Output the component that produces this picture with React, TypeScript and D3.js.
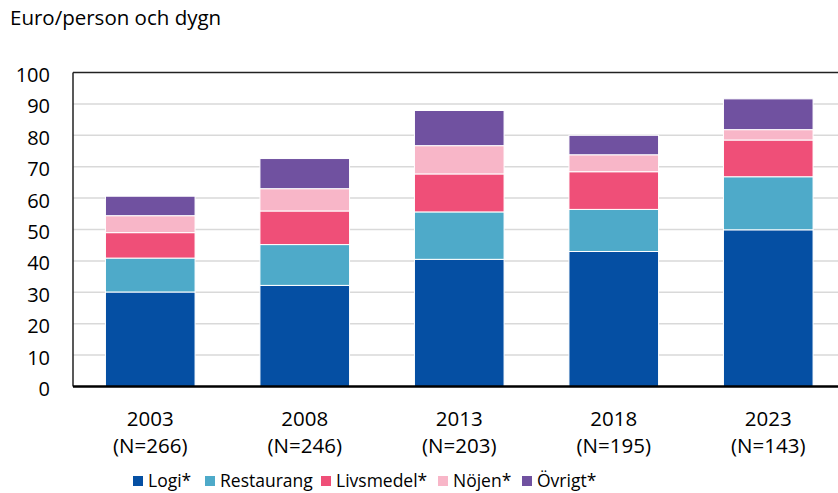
import * as d3 from 'd3';

const WIDTH = 838;
const HEIGHT = 493;
const MARGIN = { top: 72.5, left: 73, bottom: 386.5, right: 845.5 };

// Data
const years = ['2003', '2008', '2013', '2018', '2023'];
const sampleSizes = ['(N=266)', '(N=246)', '(N=203)', '(N=195)', '(N=143)'];
const categories = ['Logi*', 'Restaurang', 'Livsmedel*', 'Nöjen*', 'Övrigt*'];
const colors = ['#054FA3', '#4EAAC9', '#EF4F78', '#F8B6C8', '#7051A0'];

const logi = [30.1, 32.2, 40.5, 43.0, 49.9];
const restaurang = [10.8, 13.0, 15.1, 13.4, 16.9];
const livsmedel = [8.1, 10.7, 12.1, 12.0, 11.7];
const nojen = [5.4, 7.1, 9.0, 5.4, 3.3];
const ovrigt = [6.2, 9.6, 11.2, 6.2, 9.8];

const yTicks = [0, 10, 20, 30, 40, 50, 60, 70, 80, 90, 100];

const FONT = "'Open Sans', sans-serif";

const App = () => {
  const series = [logi, restaurang, livsmedel, nojen, ovrigt];
  const rows = years.map((year, i) => {
    const row: any = { year };
    categories.forEach((c, k) => (row[c] = series[k][i]));
    return row;
  });

  const stacked = d3.stack().keys(categories)(rows);

  const xScale = d3
    .scaleBand()
    .domain(years)
    .range([MARGIN.left, MARGIN.right])
    .paddingInner(0.42)
    .paddingOuter(0.21);

  const yScale = d3.scaleLinear().domain([0, 100]).range([MARGIN.bottom, MARGIN.top]);

  // legend layout: square x positions
  const legendX = [133, 205, 321, 438, 522];

  return (
    <svg
      width={WIDTH}
      height={HEIGHT}
      style={{ position: 'absolute', left: 0, top: 0, background: '#fff' }}
      fontFamily={FONT}
    >
      <text x={10} y={25} fontSize={20.5} fill="#000">
        Euro/person och dygn
      </text>

      {/* gridlines */}
      {yTicks.slice(1, -1).map((t) => (
        <line
          key={t}
          x1={MARGIN.left}
          x2={WIDTH}
          y1={yScale(t)}
          y2={yScale(t)}
          stroke="#D9D9D9"
          strokeWidth={1.5}
        />
      ))}

      {/* bars */}
      {stacked.map((layer, k) => (
        <g key={layer.key} fill={colors[k]}>
          {layer.map((d, i) => (
            <rect
              key={i}
              x={xScale(years[i])}
              width={xScale.bandwidth()}
              y={yScale(d[1])}
              height={yScale(d[0]) - yScale(d[1])}
              stroke="#fff"
              strokeWidth={1}
            />
          ))}
        </g>
      ))}

      {/* frame */}
      <line x1={MARGIN.left} x2={WIDTH} y1={MARGIN.top} y2={MARGIN.top} stroke="#222" strokeWidth={1.5} />
      <line x1={MARGIN.left} x2={MARGIN.left} y1={MARGIN.top} y2={MARGIN.bottom} stroke="#222" strokeWidth={1.5} />
      <line x1={MARGIN.left} x2={WIDTH} y1={MARGIN.bottom} y2={MARGIN.bottom} stroke="#000" strokeWidth={2.5} />

      {/* y tick labels */}
      {yTicks.map((t) => (
        <text
          key={t}
          x={50}
          y={yScale(t) + 2}
          textAnchor="end"
          dominantBaseline="central"
          fontSize={20}
          fill="#000"
        >
          {t}
        </text>
      ))}

      {/* x labels */}
      {years.map((y, i) => {
        const cx = (xScale(y) ?? 0) + xScale.bandwidth() / 2;
        return (
          <g key={y}>
            <text x={cx} y={426} textAnchor="middle" fontSize={20.5} fill="#000">
              {y}
            </text>
            <text x={cx} y={453} textAnchor="middle" fontSize={20.5} fill="#000">
              {sampleSizes[i]}
            </text>
          </g>
        );
      })}

      {/* legend */}
      {categories.map((c, k) => (
        <g key={c}>
          <rect x={legendX[k]} y={476} width={10} height={10} fill={colors[k]} />
          <text x={legendX[k] + 15} y={487} fontSize={17.5} fill="#000">
            {c}
          </text>
        </g>
      ))}
    </svg>
  );
};

export default App;
